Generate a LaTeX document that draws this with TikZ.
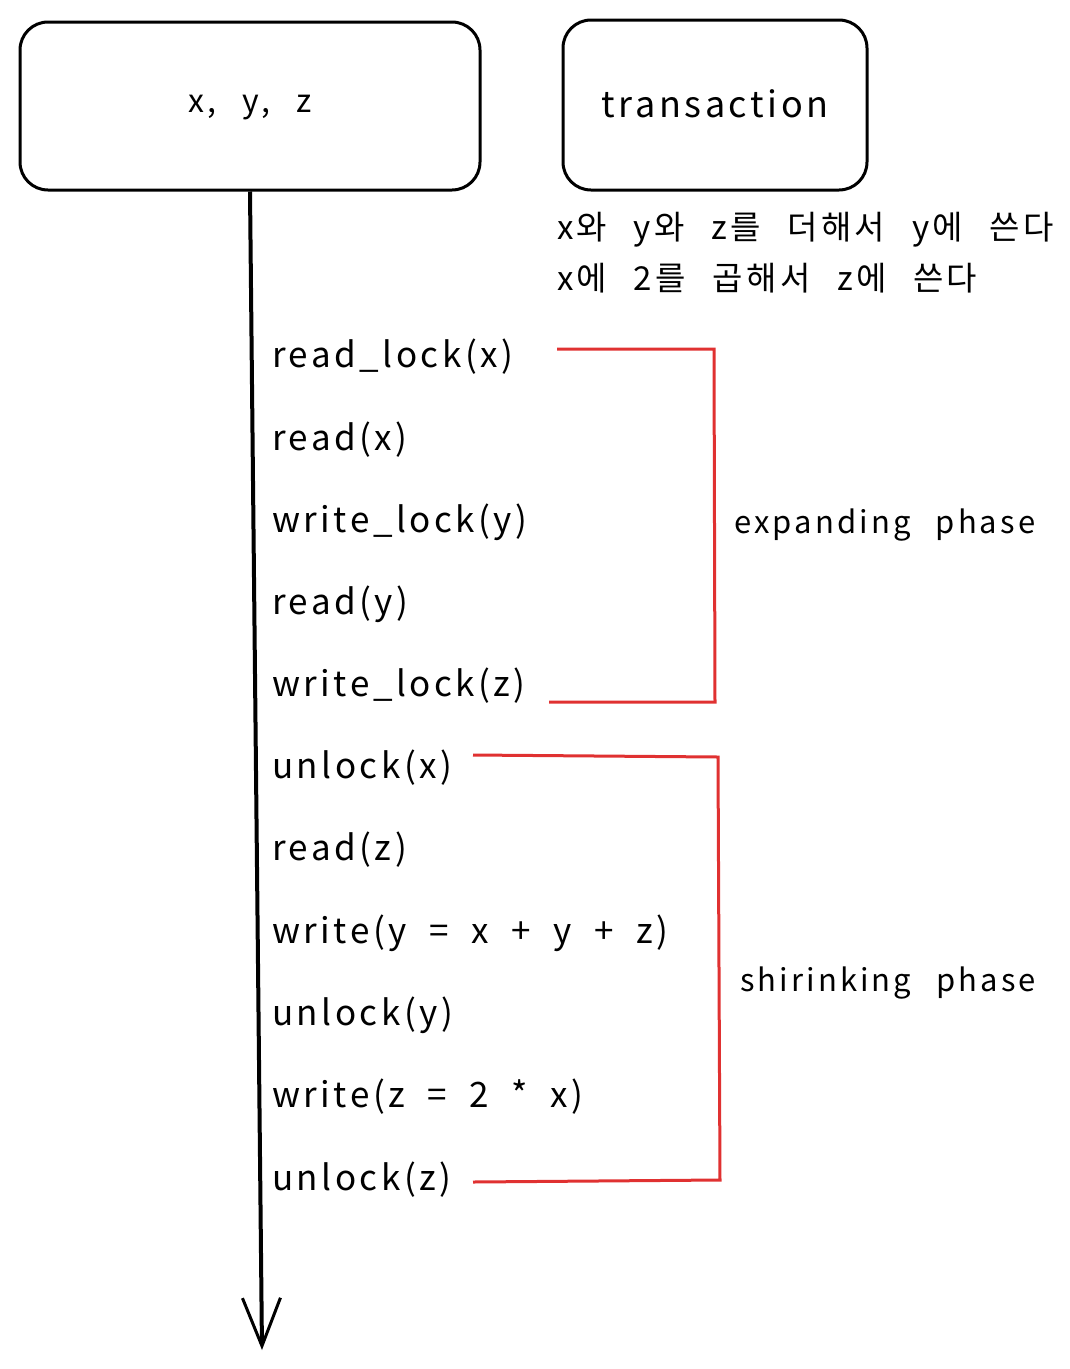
\documentclass[tikz,border=0pt]{standalone}
\usepackage{fontspec}
\setmainfont[LetterSpace=10,WordSpace=2.5]{Noto Sans CJK KR}
\newfontfamily\eqfont[LetterSpace=10,WordSpace=2]{Noto Sans CJK KR}
\usetikzlibrary{arrows.meta}
\definecolor{redline}{HTML}{E03131}
\tikzset{
  box/.style={draw=black, line width=3pt, rounded corners=28pt, inner sep=0pt},
  lbl/.style={anchor=west, inner sep=0pt, font=\fontsize{35}{40}\selectfont},
  eqlbl/.style={anchor=west, inner sep=0pt, font=\eqfont\fontsize{35}{40}\selectfont},
  phaselbl/.style={anchor=west, inner sep=0pt, font=\fontsize{31}{36}\selectfont},
  note/.style={anchor=west, inner sep=0pt, font=\fontsize{33}{38}\selectfont},
  phase/.style={line width=3pt, draw=redline},
}
\begin{document}
\begin{tikzpicture}[x=1pt,y=-1pt]
\useasboundingbox (0,0) rectangle (1070,1369);
\node[box, minimum width=460pt, minimum height=168pt] (vars) at (250,106) {};
\node[inner sep=0pt, font=\fontsize{32}{38}\selectfont] (varst) at (250,108) {x, y, z};
\node[box, minimum width=304pt, minimum height=170pt] (tx) at (715,105) {};
\node[inner sep=0pt, font=\fontsize{36}{40}\selectfont] (txt) at (715,104) {transaction};
\node[note] (k1) at (557,230) {x와 y와 z를 더해서 y에 쓴다};
\node[note] (k2) at (557,278) {x에 2를 곱해서 z에 쓴다};
\coordinate (arrend) at (262,1350);
\draw[line width=4pt, -{Straight Barb[length=48pt, width=38pt, line width=3pt]}] (vars.south) -- (arrend);
\node[lbl] (s1) at (272,357) {read\_lock(x)};
\node[lbl] (s2) at (272,440) {read(x)};
\node[lbl] (s3) at (272,522) {write\_lock(y)};
\node[lbl] (s4) at (272,604) {read(y)};
\node[lbl] (s5) at (272,686) {write\_lock(z)};
\node[lbl] (s6) at (272,768) {unlock(x)};
\node[lbl] (s7) at (272,850) {read(z)};
\node[eqlbl] (s8) at (272,933) {write(y = x + y + z)};
\node[lbl] (s9) at (272,1015) {unlock(y)};
\node[eqlbl] (s10) at (272,1097) {write(z = 2 * x)};
\node[lbl] (s11) at (272,1180) {unlock(z)};
\coordinate (e1) at (557,349);
\coordinate (e2) at (714,349);
\coordinate (e3) at (715,702);
\coordinate (e4) at (549,702);
\draw[phase] (e1) -- (e2) -- (e3) -- (e4);
\node[phaselbl] (exp) at (734,525) {expanding phase};
\coordinate (f1) at (473,755);
\coordinate (f2) at (718,757);
\coordinate (f3) at (720,1180);
\coordinate (f4) at (473,1182);
\draw[phase] (f1) -- (f2) -- (f3) -- (f4);
\node[phaselbl] (shr) at (740,983) {shirinking phase};
\end{tikzpicture}
\end{document}
